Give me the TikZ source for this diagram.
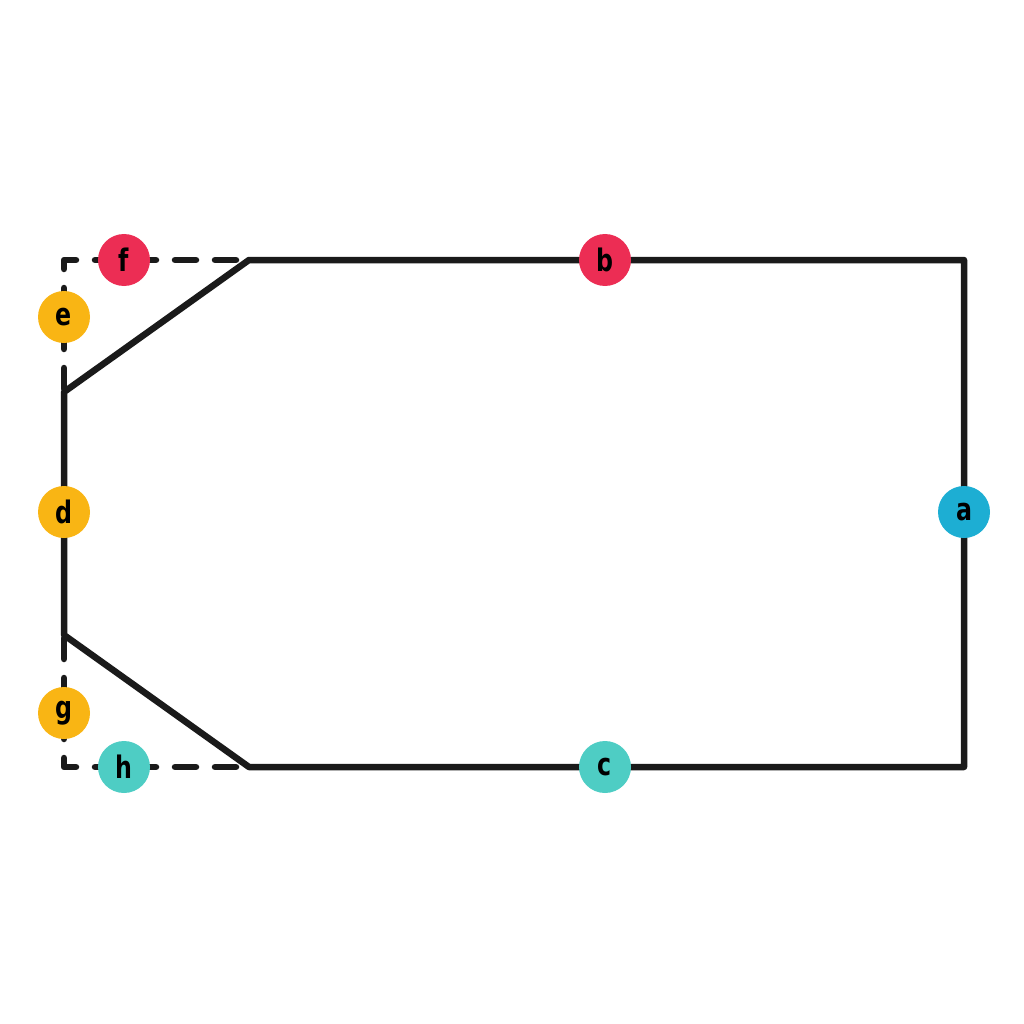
\documentclass[tikz,border=0pt]{standalone}
\usepackage{fontspec}
\setmainfont{DejaVu Sans Condensed}[FakeStretch=0.85]
\definecolor{cred}{HTML}{EC2D54}
\definecolor{cyel}{HTML}{F9B514}
\definecolor{cblue}{HTML}{1DAED3}
\definecolor{cteal}{HTML}{4ECDC4}
\definecolor{cline}{HTML}{1A1A1A}
\tikzset{
  edge/.style={line width=6.5pt, draw=cline, line join=round, line cap=round},
  dashedge/.style={line width=6.5pt, draw=cline, line cap=round, line join=round, dash pattern=on 21pt off 19pt, dash phase=37pt},
  dot/.style={circle, minimum size=52pt, inner sep=0pt, font=\fontsize{31}{31}\selectfont\bfseries, text=black},
}
\begin{document}
\begin{tikzpicture}[x=1pt,y=-1pt]
\useasboundingbox (0,0) rectangle (1024,1024);
\coordinate (tl) at (64,260);
\coordinate (t1) at (249,260);
\coordinate (tr) at (964,260);
\coordinate (br) at (964,767);
\coordinate (b1) at (249,767);
\coordinate (bl) at (64,767);
\coordinate (l1) at (64,392);
\coordinate (l2) at (64,635);
\draw[dashedge] (l1) -- (tl) -- (t1);
\draw[dashedge] (l2) -- (bl) -- (b1);
\draw[edge] (l1) -- (t1) -- (tr) -- (br) -- (b1) -- (l2) -- cycle;
\node[dot, fill=cblue] (a) at (964,512) {a};
\node[dot, fill=cred] (b) at (605,260) {b};
\node[dot, fill=cteal] (c) at (605,767) {c};
\node[dot, fill=cyel] (d) at (64,512) {d};
\node[dot, fill=cyel] (e) at (64,317) {e};
\node[dot, fill=cred] (f) at (124,260) {f};
\node[dot, fill=cyel] (g) at (64,713) {g};
\node[dot, fill=cteal] (h) at (124,767) {h};
\end{tikzpicture}
\end{document}
